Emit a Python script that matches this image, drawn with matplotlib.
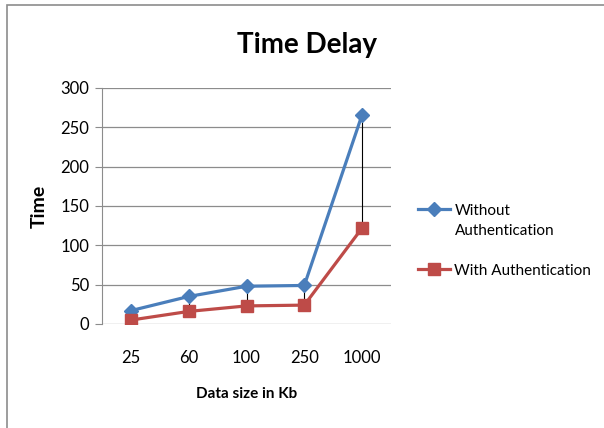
import matplotlib.pyplot as plt
from matplotlib.patches import Rectangle
from matplotlib.lines import Line2D

sizes = ["25", "60", "100", "250", "1000"]
without_auth = [17, 35, 48, 49, 266]
with_auth = [5, 16, 23, 24, 122]

blue = "#4A7EBB"
red = "#BE4B48"

plt.rcParams['font.family'] = ['Lato', 'DejaVu Sans']

fig = plt.figure(figsize=(6.04, 4.28), dpi=100)
ax = fig.add_axes([102 / 604, 1 - 324 / 428, 289 / 604, 236 / 428])

x = list(range(len(sizes)))
# high-low lines between the two series
ax.vlines(x, with_auth, without_auth, color="black", lw=0.8, zorder=2)
ax.plot(x, without_auth, color=blue, lw=2.3, marker="D", ms=7, zorder=3)
ax.plot(x, with_auth, color=red, lw=2.3, marker="s", ms=8, zorder=3)

ax.set_xlim(-0.5, 4.5)
ax.set_ylim(0, 300)
ax.set_yticks(range(0, 301, 50))
ax.set_xticks(x)
ax.set_xticklabels(sizes)
ax.yaxis.grid(True, color="#8c8c8c", lw=0.9)
ax.set_axisbelow(True)
for s in ["top", "right", "bottom"]:
    ax.spines[s].set_visible(False)
ax.spines["left"].set_color("#8c8c8c")
ax.tick_params(axis="y", length=5, color="#8c8c8c", labelsize=12, pad=4)
ax.tick_params(axis="x", length=0, labelsize=12, pad=19)

ax.set_xlabel("Data size in Kb", fontsize=11, fontweight="bold", labelpad=15)
ax.set_ylabel("Time", fontsize=14, fontweight="bold", labelpad=9)
fig.text(307 / 604, 1 - 45 / 428, "Time Delay", fontsize=20, fontweight="bold",
         ha="center", va="center")

# legend: handle sits next to the first line of the wrapped label
handles = [Line2D([], [], color=blue, lw=2.3, marker="D", ms=7),
           Line2D([], [], color=red, lw=2.3, marker="s", ms=8)]
fig.legend(handles, ["Without", "With Authentication"], loc="upper left",
           bbox_to_anchor=(404 / 604, 1 - 190 / 428), frameon=False,
           fontsize=11, handlelength=2.1, labelspacing=3.0, handletextpad=0.3)
fig.text(455 / 604, 1 - 231 / 428, "Authentication", fontsize=11,
         ha="left", va="center")

fig.patches.append(Rectangle((7 / 604, -0.1), 1.2, 1 - 5 / 428 + 0.1,
                             transform=fig.transFigure, fill=False,
                             edgecolor="#8c8c8c", lw=1.2))

fig.savefig("out.png", dpi=100)
